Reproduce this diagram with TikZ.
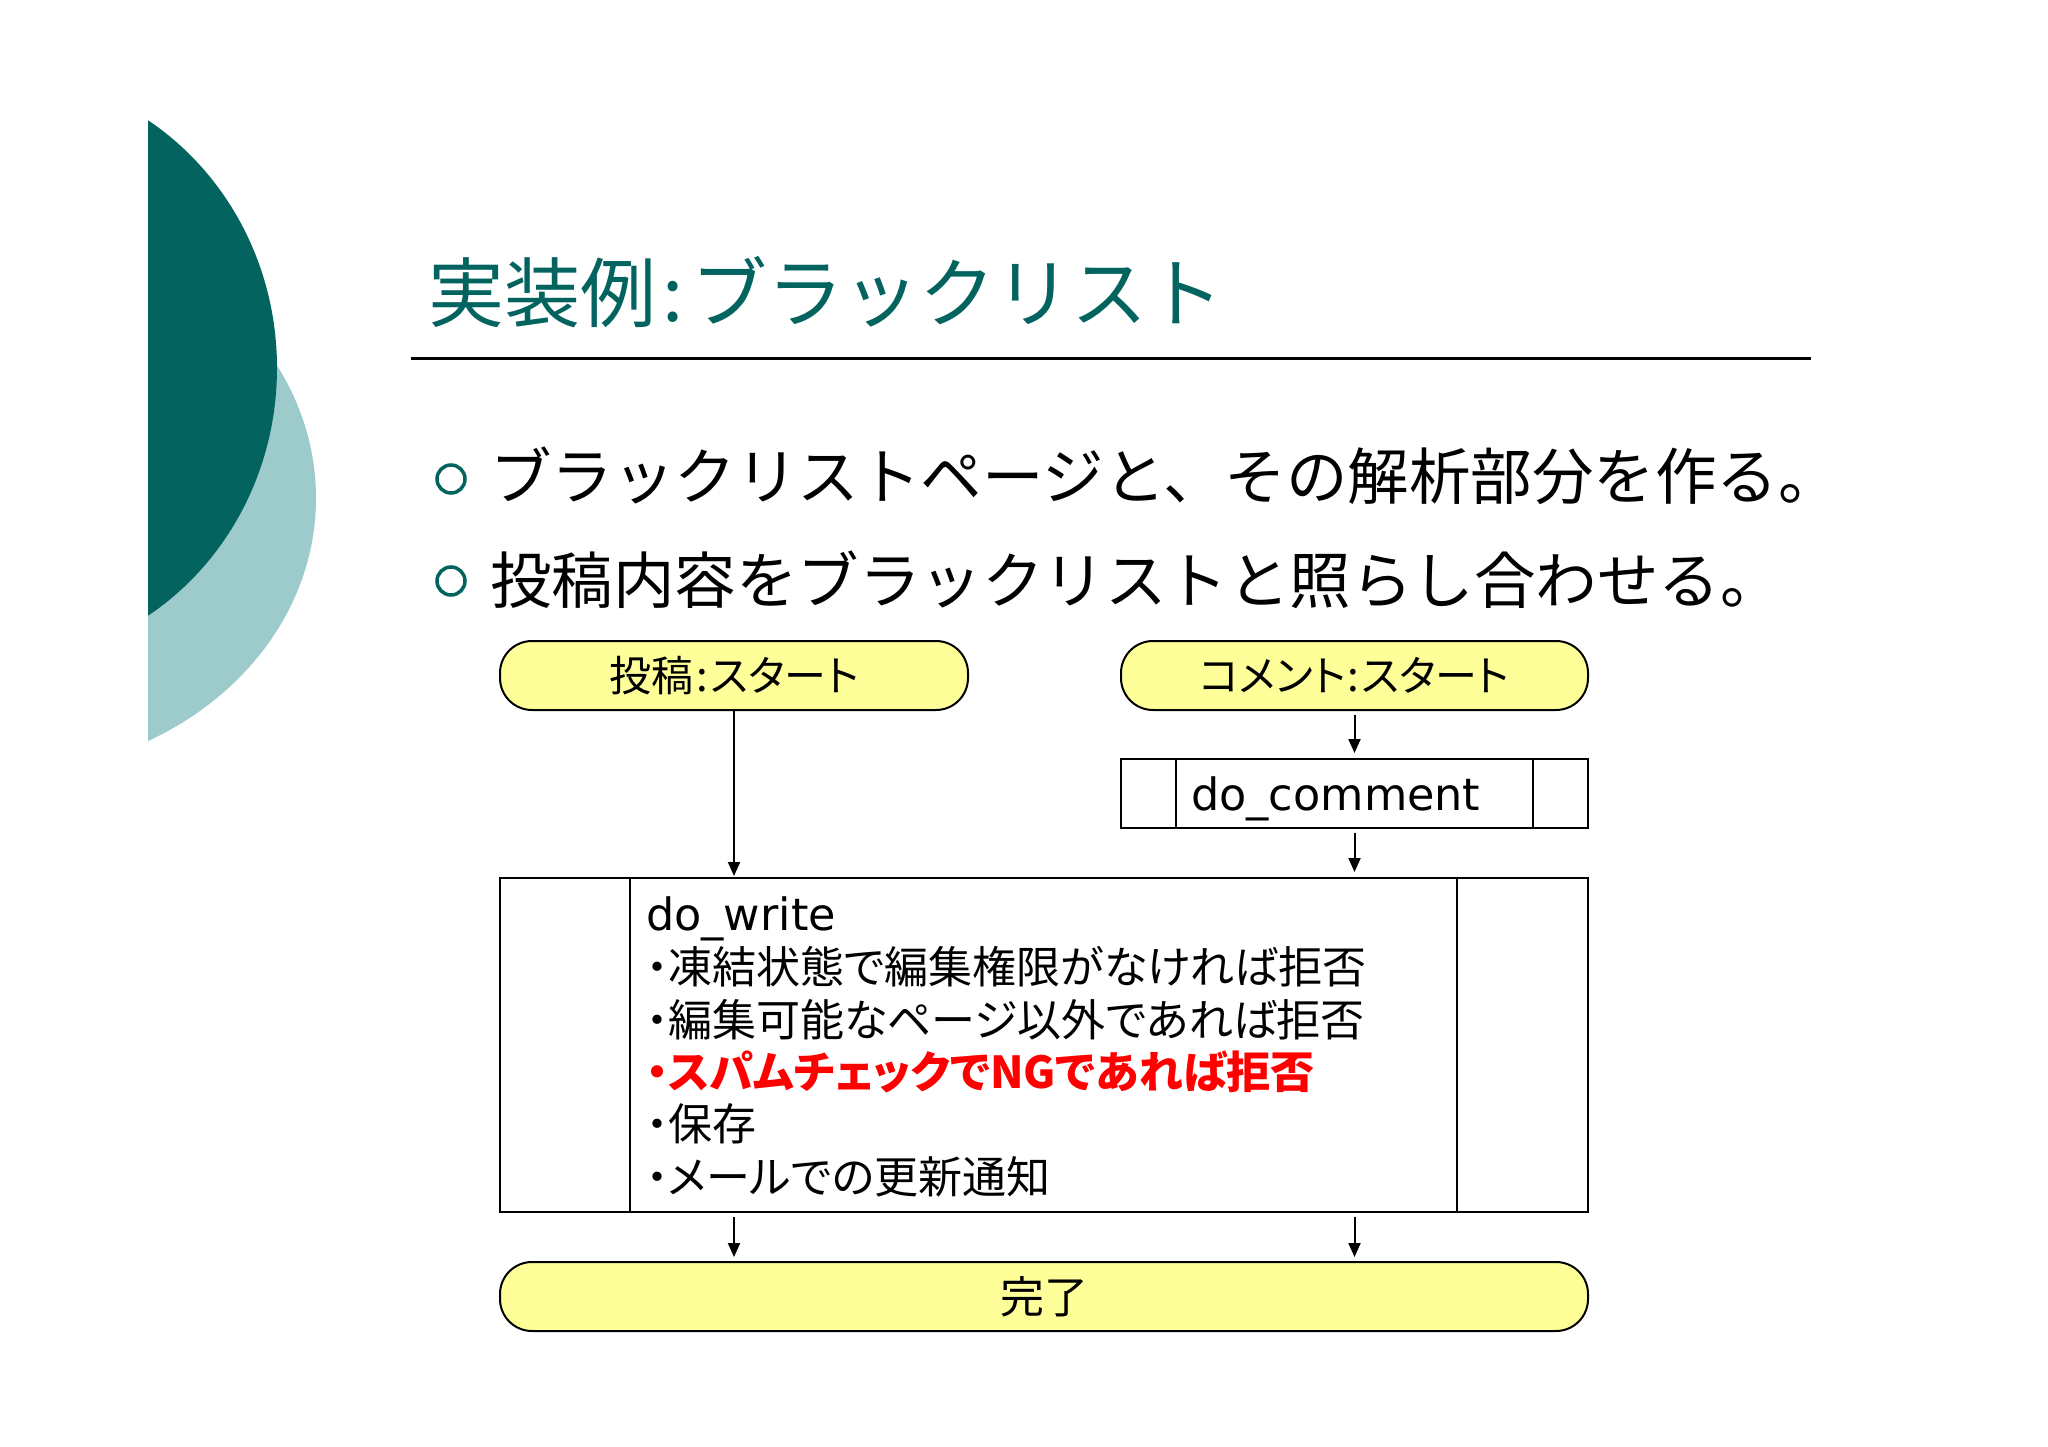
\documentclass[tikz,border=0pt]{standalone}
\usepackage{fontspec}
\usetikzlibrary{arrows.meta}
\newfontfamily\jpfont{Noto Sans CJK JP}
\newfontfamily\jpprop[RawFeature=+palt]{Noto Sans CJK JP}
\newfontfamily\vdfont{DejaVu Sans}
\definecolor{tealdark}{HTML}{02635F}
\definecolor{teallight}{HTML}{9DCBCC}
\definecolor{pillyellow}{HTML}{FFFF99}
\definecolor{alertred}{HTML}{FF0000}
\begin{document}
\begin{tikzpicture}[x=1pt,y=-1pt,
  pill/.style={draw=black, line width=2pt, fill=pillyellow, rounded corners=32pt,
    minimum height=69pt, inner sep=0pt, font=\jpprop\fontsize{42}{50}\selectfont},
  procbox/.style={draw=black, line width=2pt, fill=white, inner sep=0pt, minimum height=69pt},
  divider/.style={draw=black, line width=2pt},
  arr/.style={draw=black, line width=2pt, -{Triangle[length=14pt,width=12pt]}},
  jpline/.style={anchor=base west, inner sep=0pt, font=\jpprop\fontsize{44}{52}\selectfont},
  bigline/.style={anchor=base west, inner sep=0pt, font=\jpfont\fontsize{61.5}{72}\selectfont},
  codetext/.style={anchor=base west, inner sep=0pt, font=\vdfont\fontsize{44.5}{50}\selectfont},
  bulletmark/.style={draw=tealdark, line width=3.5pt}
]
\useasboundingbox (0,0) rectangle (2048,1447);
\fill[white] (0,0) rectangle (2048,1447);

% decorative ellipses at the left
\begin{scope}
  \clip (148,0) rectangle (700,1447);
  \fill[teallight] (0,498) ellipse [x radius=316, y radius=275];
  \fill[tealdark] (0,368) ellipse [x radius=277, y radius=293];
\end{scope}

% title
\node[anchor=base west, inner sep=0pt, text=tealdark,
  font=\jpfont\fontsize{76}{84}\selectfont] (title) at (428,322) {実装例\hspace{6pt}:\hspace{8pt}ブラックリスト};
\coordinate (ruleL) at (411,358);
\coordinate (ruleR) at (1811,358);
\draw[line width=3pt] (ruleL) -- (ruleR);

% bullets
\draw[bulletmark] (451,479) circle [radius=14];
\node[bigline] (b1) at (490,499) {ブラックリストページと、その解析部分を作る。};
\draw[bulletmark] (451,581) circle [radius=14];
\node[bigline] (b2) at (490,603) {投稿内容をブラックリストと照らし合わせる。};

% flowchart
\node[pill, minimum width=468pt] (s1) at (734,675.5) {投稿\hspace{3pt}:\hspace{3pt}スタート};
\node[pill, minimum width=467pt] (s2) at (1354.5,675.5) {コメント\hspace{2pt}:\hspace{2pt}スタート};

\node[procbox, minimum width=467pt] (dc) at (1354.5,793.5) {};
\draw[divider] (dc.north west) ++(56,0) -- ++(0,69);
\draw[divider] (dc.north east) ++(-56,0) -- ++(0,69);
\node[codetext] (dct) at (1191,810) {do\_comment};

\node[procbox, minimum width=1088pt, minimum height=334pt] (dw) at (1044,1045) {};
\draw[divider] (dw.north west) ++(131,0) -- ++(0,334);
\draw[divider] (dw.north east) ++(-132,0) -- ++(0,334);
\node[codetext] (dw0) at (646,930) {do\_write};
\node[jpline] (dw1) at (646,983) {・凍結状態で編集権限がなければ拒否};
\node[jpline] (dw2) at (646,1036) {・編集可能なページ以外であれば拒否};
\node[jpline, text=alertred, font=\jpprop\bfseries\fontsize{44}{52}\selectfont] (dw3) at (646,1088) {・スパムチェックでNGであれば拒否};
\node[jpline] (dw4) at (646,1140) {・保存};
\node[jpline] (dw5) at (646,1193) {・メールでの更新通知};

\node[pill, minimum width=1088pt, font=\jpfont\fontsize{44}{52}\selectfont] (en) at (1044,1296.5) {完了};

% connectors
\draw[arr, shorten >=1pt] (s1.south) -- (s1.south |- dw.north);
\draw[arr, shorten <=4pt, shorten >=5pt] (s2.south) -- (dc.north);
\draw[arr, shorten <=4pt, shorten >=5pt] (dc.south) -- (dc.south |- dw.north);
\draw[arr, shorten <=4pt, shorten >=4pt] (s1.south |- dw.south) -- (s1.south |- en.north);
\draw[arr, shorten <=4pt, shorten >=4pt] (dc.south |- dw.south) -- (dc.south |- en.north);
\end{tikzpicture}
\end{document}
